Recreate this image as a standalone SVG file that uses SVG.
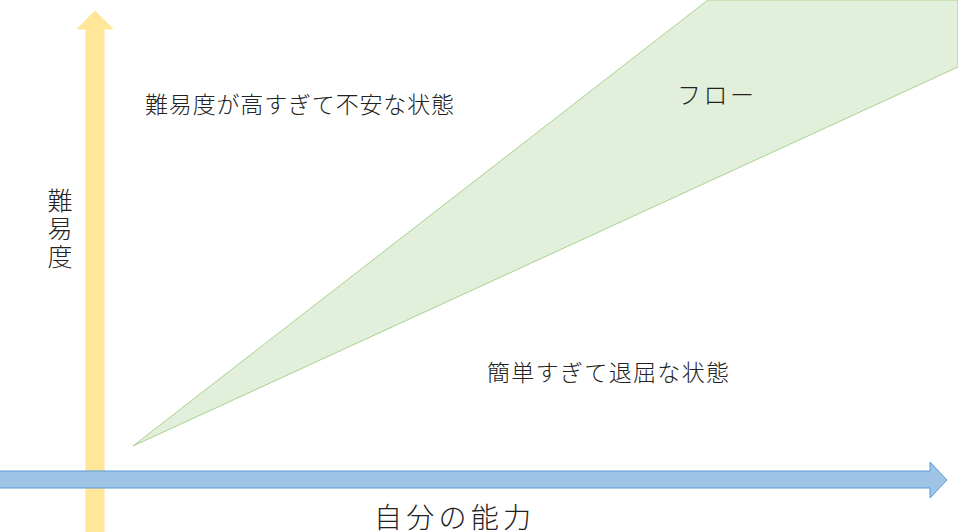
<svg xmlns="http://www.w3.org/2000/svg" width="958" height="532" viewBox="0 0 958 532">
<style>
text{font-family:"Noto Sans CJK JP","Noto Sans CJK SC",sans-serif;fill:#222;font-weight:300}
</style>
<rect width="958" height="532" fill="#fff"/>
<g id="flow-zone">
<polygon points="133,446 708,0 958,0 958,67" fill="#E2EFDA" stroke="#A9D18E" stroke-width="1"/>
</g>
<g id="connectors">
<polygon id="y-axis" points="86,533 86,29 77,29 95,11 113,29 104,29 104,533" fill="#FFE699" stroke="#FFE699" stroke-width="1"/>
<polygon id="x-axis" points="-1,471 930,471 930,462 947,480 930,498 930,488 -1,488" fill="#9DC3E6" stroke="#5B9BD5" stroke-width="1"/>
</g>
<g id="label-anxiety"><text x="145" y="113" font-size="23" textLength="309" lengthAdjust="spacing">難易度が高すぎて不安な状態</text></g>
<g id="label-flow"><text x="677" y="104" font-size="24" textLength="77" lengthAdjust="spacing">フロー</text></g>
<g id="label-boredom"><text x="487" y="381" font-size="23" textLength="242" lengthAdjust="spacing">簡単すぎて退屈な状態</text></g>
<g id="label-difficulty">
<text x="60" y="210" font-size="25" text-anchor="middle">難</text>
<text x="60" y="238" font-size="25" text-anchor="middle">易</text>
<text x="60" y="266" font-size="25" text-anchor="middle">度</text>
</g>
<g id="label-ability"><text x="374" y="528" font-size="28" textLength="157" lengthAdjust="spacing">自分の能力</text></g>
</svg>
